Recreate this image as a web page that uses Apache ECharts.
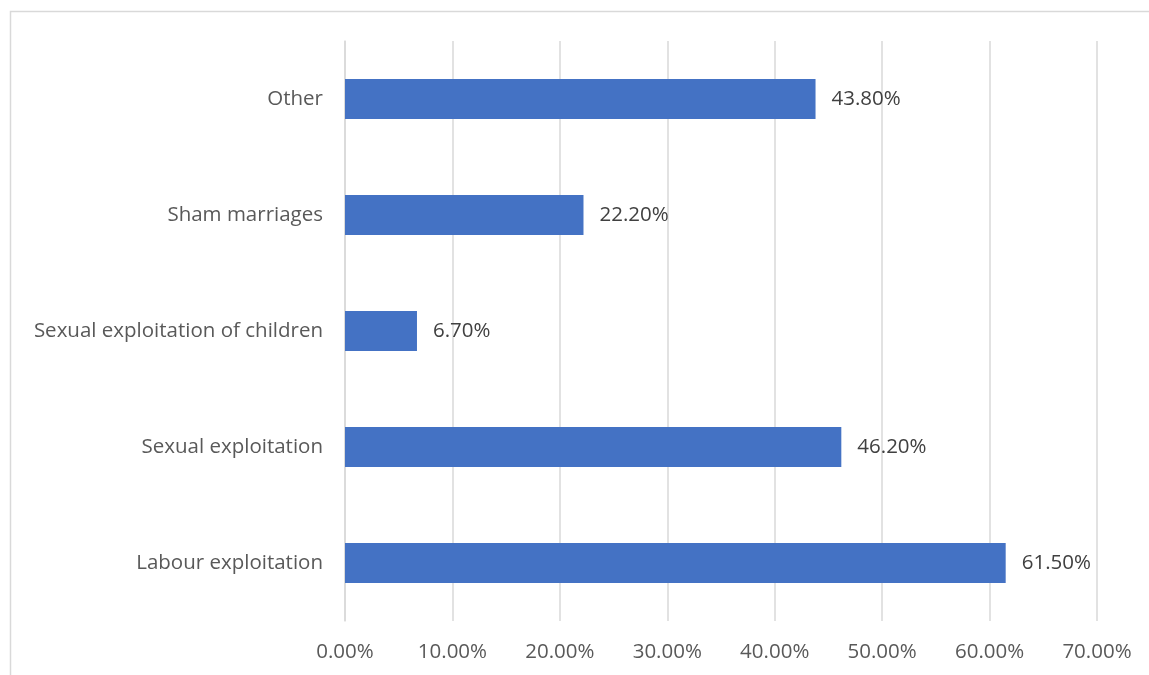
<!DOCTYPE html>
<html><head><meta charset="utf-8">
<script src="https://cdn.jsdelivr.net/npm/echarts@6/dist/echarts.min.js"></script>
<style>html,body{margin:0;padding:0;background:#fff}#c{width:1149px;height:675px}</style>
</head><body><div id="c"></div>
<script>
const categories = ["Labour exploitation", "Sexual exploitation", "Sexual exploitation of children", "Sham marriages", "Other"];
const values = [61.5, 46.2, 6.7, 22.2, 43.8];
const tickLabels = ["0.00%", "10.00%", "20.00%", "30.00%", "40.00%", "50.00%", "60.00%", "70.00%"];

const chart = echarts.init(document.getElementById('c'), null, {renderer: 'canvas'});
const font = "'Open Sans', sans-serif";
chart.setOption({
  animation: false,
  graphic: [{type: 'rect', shape: {x: 10.5, y: 11.5, width: 1200, height: 700}, style: {fill: 'none', stroke: '#d9d9d9', lineWidth: 1.5}, silent: true}],
  grid: {left: 345, right: 52, top: 41, bottom: 54, containLabel: false},
  xAxis: {
    type: 'value', min: 0, max: 70, interval: 10,
    axisLine: {show: false}, axisTick: {show: false},
    splitLine: {show: true, lineStyle: {color: '#d9d9d9', width: 1.5}},
    axisLabel: {color: '#595959', fontFamily: font, fontSize: 20.5, margin: 21,
      formatter: (v) => tickLabels[Math.round(v / 10)]}
  },
  yAxis: {
    type: 'category', data: categories,
    axisLine: {show: true, lineStyle: {color: '#d9d9d9', width: 1.5}},
    axisTick: {show: false},
    axisLabel: {color: '#595959', fontFamily: font, fontSize: 20.5, margin: 22}
  },
  series: [{
    type: 'bar', data: values, barWidth: 40,
    itemStyle: {color: '#4472C4'},
    label: {show: true, position: 'right', distance: 16, color: '#404040', fontFamily: font, fontSize: 20.5,
      formatter: (p) => p.value.toFixed(2) + '%'}
  }]
});
</script></body></html>
